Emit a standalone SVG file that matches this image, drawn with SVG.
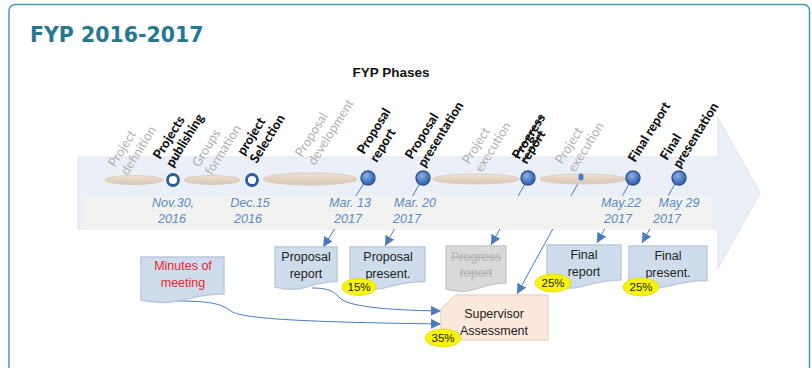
<svg xmlns="http://www.w3.org/2000/svg" width="812" height="368" viewBox="0 0 812 368">
  <style>
    .card { fill: #ffffff; stroke: #4d98b1; stroke-width: 1.5; }
    .title { font-family: "DejaVu Sans", Verdana, sans-serif; font-weight: bold; font-size: 20.5px; fill: #267891; }
    .subtitle { font-family: "Liberation Sans", Arial, sans-serif; font-weight: bold; font-size: 13.5px; fill: #111; }
    .phase { stroke: #d9c7b5; stroke-width: 0.8; }
    .ring { fill: #ffffff; stroke: #2c5c9c; stroke-width: 2.8; }
    .dot { fill: url(#ballGrad); stroke: #2c5596; stroke-width: 1.4; }
    .date { font-family: "Liberation Sans", Arial, sans-serif; font-style: italic; font-size: 12.5px; fill: #5b8bc8; text-anchor: middle; }
    .lbl { font-family: Lato, "Open Sans", sans-serif; font-size: 13px; }
    .milestone { font-weight: 900; fill: #111111; }
    .stage { fill: #b0b0b0; }
    .doc { fill: #cfdcec; stroke: #b9c9dd; stroke-width: 1.4; }
    .doc-off { fill: #d9d9d9; stroke: #c9c9c9; stroke-width: 1.4; }
    .doctext { font-family: "Liberation Sans", Arial, sans-serif; font-size: 12.5px; fill: #222; text-anchor: middle; }
    .link { fill: none; stroke: #4a7bbf; stroke-width: 1; }
    .pct { fill: #f7f30c; stroke: #e2dc00; stroke-width: 0.8; }
    .pcttext { font-family: "Liberation Sans", Arial, sans-serif; font-size: 11.5px; fill: #222; text-anchor: middle; }
  </style>
  <defs>
    <marker id="tip" markerUnits="userSpaceOnUse" markerWidth="11" markerHeight="10" refX="10" refY="5" orient="auto">
      <path d="M0,0 L10,5 L0,10 Z" fill="#4a7bbf"/>
    </marker>
    <radialGradient id="ballGrad" cx="0.4" cy="0.35" r="0.7">
      <stop offset="0" stop-color="#8fb2e0"/>
      <stop offset="0.6" stop-color="#4a7cc2"/>
      <stop offset="1" stop-color="#2f5b9e"/>
    </radialGradient>
    <linearGradient id="phaseGrad" x1="0" y1="0" x2="0" y2="1">
      <stop offset="0" stop-color="#efe3d6"/>
      <stop offset="0.5" stop-color="#e4d3c2"/>
      <stop offset="1" stop-color="#dac8b6"/>
    </linearGradient>
  </defs>

  <!-- card frame and headings -->
  <rect class="card" x="9" y="4.5" width="800.5" height="400" rx="6"/>
  <text class="title" x="30" y="42">FYP 2016-2017</text>
  <text class="subtitle" x="391" y="77" text-anchor="middle">FYP Phases</text>

  <!-- timeline arrow -->
  <g id="timeline-arrow">
    <path d="M78,157 H718 V118 L760,193 L718,268 V229 H78 Z" fill="#ebf0f8" stroke="#e0e7f1" stroke-width="1.2"/>
  </g>

  <!-- connectors -->
  <g id="connectors">
    <path class="link" d="M366,180 L323,247" marker-end="url(#tip)"/>
    <path class="link" d="M421,181 L385,246" marker-end="url(#tip)"/>
    <path class="link" d="M526,182 L491,245" marker-end="url(#tip)"/>
    <path class="link" d="M581,178 L517,294" marker-end="url(#tip)"/>
    <path class="link" d="M630,182 L597,243" marker-end="url(#tip)"/>
    <path class="link" d="M676,182 L642,243" marker-end="url(#tip)"/>
    <path class="link" d="M177,301 C215,301 222,305 231,311 C240,318 290,322 441,324" marker-end="url(#tip)"/>
    <path class="link" d="M312,288 C330,288 334,292 340,298 C348,306 380,310 441,311" marker-end="url(#tip)"/>
  </g>

  <!-- date band -->
  <rect x="82" y="196" width="630" height="33" fill="#f2f2f1"/>

  <!-- phase spans -->
  <g id="phases">
    <ellipse class="phase" fill="url(#phaseGrad)" cx="134" cy="180" rx="29" ry="4.5"/>
    <ellipse class="phase" fill="url(#phaseGrad)" cx="212" cy="180" rx="28" ry="4.5"/>
    <ellipse class="phase" fill="url(#phaseGrad)" cx="310" cy="179" rx="47" ry="6"/>
    <ellipse class="phase" fill="url(#phaseGrad)" cx="476" cy="179" rx="43" ry="5"/>
    <ellipse class="phase" fill="url(#phaseGrad)" cx="583" cy="179" rx="43" ry="5"/>
    <ellipse cx="581" cy="177" rx="2.6" ry="3.6" fill="#4a7cc2"/>
  </g>

  <!-- milestones -->
  <g id="m-publishing"><circle class="ring" cx="173" cy="180" r="5.5"/></g>
  <g id="m-selection"><circle class="ring" cx="252" cy="180" r="5.5"/></g>
  <g id="m-proposal-report"><circle class="dot" cx="368" cy="178" r="7"/></g>
  <g id="m-proposal-presentation"><circle class="dot" cx="423" cy="178" r="7"/></g>
  <g id="m-progress-report"><circle class="dot" cx="528" cy="178" r="7"/></g>
  <g id="m-final-report"><circle class="dot" cx="633" cy="178" r="7"/></g>
  <g id="m-final-presentation"><circle class="dot" cx="679" cy="178" r="7"/></g>

  <!-- dates -->
  <g id="dates">
    <text class="date" x="173" y="207">Nov.30,</text><text class="date" x="172" y="223">2016</text>
    <text class="date" x="250" y="207">Dec.15</text><text class="date" x="248" y="223">2016</text>
    <text class="date" x="350" y="207">Mar. 13</text><text class="date" x="348" y="223">2017</text>
    <text class="date" x="415" y="207">Mar. 20</text><text class="date" x="407" y="223">2017</text>
    <text class="date" x="621" y="207">May.22</text><text class="date" x="618" y="223">2017</text>
    <text class="date" x="679" y="207">May 29</text><text class="date" x="667" y="223">2017</text>
  </g>

  <!-- slanted phase / milestone labels -->
  <g id="labels">
    <text class="lbl stage" transform="translate(115,168) rotate(-58)"><tspan x="0" y="0">Project</tspan><tspan x="0" y="15">definition</tspan></text>
    <text class="lbl milestone" transform="translate(160,160) rotate(-58)"><tspan x="0" y="0">Projects</tspan><tspan x="0" y="15">publishing</tspan></text>
    <text class="lbl stage" transform="translate(199,168) rotate(-58)"><tspan x="0" y="0">Groups</tspan><tspan x="0" y="15">formation</tspan></text>
    <text class="lbl milestone" transform="translate(244,156) rotate(-58)"><tspan x="0" y="0">project</tspan><tspan x="0" y="15">Selection</tspan></text>
    <text class="lbl stage" transform="translate(302,158) rotate(-58)"><tspan x="0" y="0">Proposal</tspan><tspan x="0" y="15">development</tspan></text>
    <text class="lbl milestone" transform="translate(364,155) rotate(-58)"><tspan x="0" y="0">Proposal</tspan><tspan x="0" y="15">report</tspan></text>
    <text class="lbl milestone" transform="translate(412,160) rotate(-58)"><tspan x="0" y="0">Proposal</tspan><tspan x="0" y="15">presentation</tspan></text>
    <text class="lbl stage" transform="translate(469,165) rotate(-58)"><tspan x="0" y="0">Project</tspan><tspan x="0" y="15">execution</tspan></text>
    <text class="lbl milestone" transform="translate(519,160) rotate(-58)" text-decoration="line-through"><tspan x="0" y="0">Progress</tspan><tspan x="0" y="9">report</tspan></text>
    <text class="lbl stage" transform="translate(562,165) rotate(-58)"><tspan x="0" y="0">Project</tspan><tspan x="0" y="15">execution</tspan></text>
    <text class="lbl milestone" transform="translate(635,163) rotate(-58)">Final report</text>
    <text class="lbl milestone" transform="translate(667,161) rotate(-58)"><tspan x="0" y="0">Final</tspan><tspan x="0" y="15">presentation</tspan></text>
  </g>

  <!-- deliverables -->
  <g id="doc-minutes">
    <path class="doc" d="M141,257 H224 V294 C182.5,294 182.5,308 141,300 Z"/>
    <text class="doctext" x="183" y="270" style="fill:#e8262b">Minutes of</text>
    <text class="doctext" x="183" y="287" style="fill:#e8262b">meeting</text>
  </g>
  <g id="doc-proposal-report">
    <path class="doc" d="M275,247 H337 V281.5 C306,281.5 306,294.6 275,287 Z"/>
    <text class="doctext" x="306" y="261">Proposal</text>
    <text class="doctext" x="306" y="278">report</text>
  </g>
  <g id="doc-proposal-present">
    <path class="doc" d="M350,247 H425 V281.5 C387.5,281.5 387.5,294.6 350,287 Z"/>
    <text class="doctext" x="388" y="261">Proposal</text>
    <text class="doctext" x="388" y="278">present.</text>
    <ellipse class="pct" cx="359" cy="287" rx="17" ry="8.5"/>
    <text class="pcttext" x="359" y="291">15%</text>
  </g>
  <g id="doc-progress-report">
    <path class="doc-off" d="M446,246 H506 V283 C476,283 476,297 446,289 Z"/>
    <text class="doctext" x="476" y="261" style="fill:#b3b3b3" text-decoration="line-through">Progress</text>
    <text class="doctext" x="476" y="277" style="fill:#b3b3b3" text-decoration="line-through">report</text>
  </g>
  <g id="doc-final-report">
    <path class="doc" d="M547,245 H621 V280 C584,280 584,293.5 547,286 Z"/>
    <text class="doctext" x="584" y="259">Final</text>
    <text class="doctext" x="584" y="276">report</text>
    <ellipse class="pct" cx="553" cy="283" rx="18" ry="9"/>
    <text class="pcttext" x="553" y="287">25%</text>
  </g>
  <g id="doc-final-present">
    <path class="doc" d="M629,246 H707 V280.5 C668,280.5 668,293.6 629,286 Z"/>
    <text class="doctext" x="668" y="260">Final</text>
    <text class="doctext" x="668" y="277">present.</text>
    <ellipse class="pct" cx="641" cy="287" rx="18" ry="9"/>
    <text class="pcttext" x="641" y="291">25%</text>
  </g>
  <g id="supervisor-assessment">
    <path d="M456,295 H548 V340 H441 V309 Z" fill="#fde9db" stroke="#e8d8cc" stroke-width="1.4"/>
    <text class="doctext" x="494" y="318">Supervisor</text>
    <text class="doctext" x="494" y="335">Assessment</text>
    <ellipse class="pct" cx="443" cy="338" rx="18" ry="9"/>
    <text class="pcttext" x="443" y="342">35%</text>
  </g>
</svg>
